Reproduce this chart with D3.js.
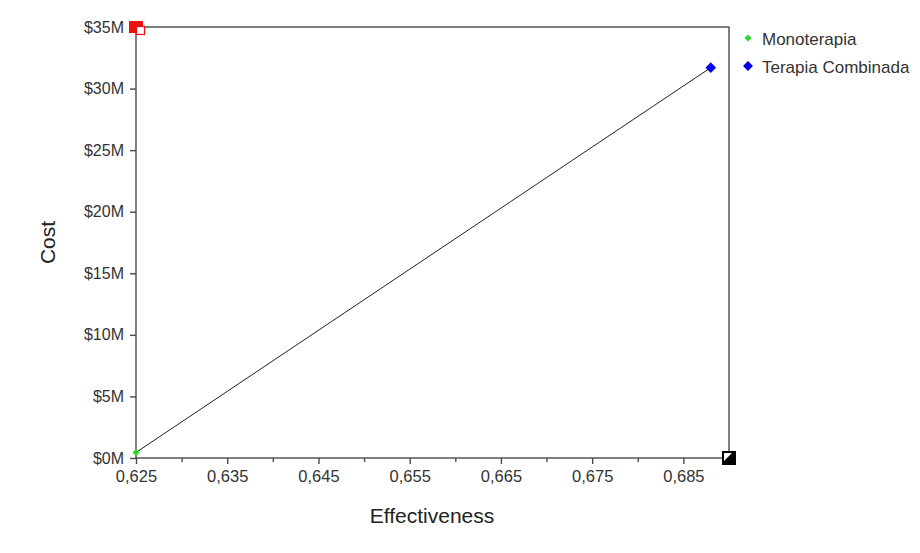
<!DOCTYPE html>
<html><head><meta charset="utf-8">
<script src="https://cdn.jsdelivr.net/npm/d3@7"></script>
<style>body{margin:0;background:#fff;font-family:"Liberation Sans",Arial,sans-serif}</style>
</head><body><svg id="c" width="920" height="553"></svg>
<script>
const seriesNames = ["Monoterapia", "Terapia Combinada"];
const effectiveness = [0.625, 0.688];
const cost = [0.45e6, 31.7e6];
const seriesColors = ["#22dd22", "#0000ee"];
const xTicks = [0.625, 0.635, 0.645, 0.655, 0.665, 0.675, 0.685];
const xMinorTicks = [0.630, 0.640, 0.650, 0.660, 0.670, 0.680];
const yTicks = [0, 5e6, 10e6, 15e6, 20e6, 25e6, 30e6, 35e6];
const xDomain = [0.625, 0.69];
const yDomain = [0, 35e6];

const svg = d3.select("#c");
const L = 136, R = 729, T = 27, B = 458;
const x = d3.scaleLinear().domain(xDomain).range([L, R]);
const y = d3.scaleLinear().domain(yDomain).range([B, T]);
const axisColor = "#4a4a4a";
const textColor = "#333";
const FF = "Liberation Sans, Arial, sans-serif";

// frame
svg.append("rect").attr("x", L).attr("y", T).attr("width", R - L).attr("height", B - T)
  .attr("fill", "none").attr("stroke", axisColor).attr("stroke-width", 1.4);

// y axis
const yAxis = svg.append("g").attr("transform", `translate(${L},0)`)
  .call(d3.axisLeft(y).tickValues(yTicks).tickSize(6).tickPadding(6)
    .tickFormat(d => "$" + d3.format("d")(d / 1e6) + "M"));
yAxis.select(".domain").remove();
yAxis.selectAll("line").attr("stroke", axisColor).attr("stroke-width", 1.4);
yAxis.selectAll("text").attr("fill", textColor).attr("font-size", 16).attr("font-family", FF);

// x axis
const xAxis = svg.append("g").attr("transform", `translate(0,${B})`)
  .call(d3.axisBottom(x).tickValues(xTicks).tickSize(6).tickPadding(6)
    .tickFormat(d => d3.format(".3f")(d).replace(".", ",")));
xAxis.select(".domain").remove();
xAxis.selectAll("line").attr("stroke", axisColor).attr("stroke-width", 1.4);
xAxis.selectAll("text").attr("fill", textColor).attr("font-size", 16.5).attr("font-family", FF);
const xMinor = svg.append("g").attr("transform", `translate(0,${B})`)
  .call(d3.axisBottom(x).tickValues(xMinorTicks).tickSize(4).tickFormat(""));
xMinor.select(".domain").remove();
xMinor.selectAll("line").attr("stroke", axisColor).attr("stroke-width", 1.4);

// axis titles
svg.append("text").attr("x", 432).attr("y", 523).attr("text-anchor", "middle")
  .attr("fill", "#222").attr("font-size", 21).attr("font-family", FF).text("Effectiveness");
svg.append("text").attr("transform", `translate(55,${(T + B) / 2}) rotate(-90)`)
  .attr("text-anchor", "middle").attr("fill", "#222").attr("font-size", 21).attr("font-family", FF).text("Cost");

// line between strategies
svg.append("line")
  .attr("x1", x(effectiveness[0])).attr("y1", y(cost[0]))
  .attr("x2", x(effectiveness[1])).attr("y2", y(cost[1]))
  .attr("stroke", "#222").attr("stroke-width", 1);

// corner markers
const tl = [x(xDomain[0]), y(yDomain[1])];
svg.append("rect").attr("x", tl[0] - 7).attr("y", tl[1] - 6).attr("width", 14).attr("height", 12).attr("fill", "#ee1111");
svg.append("rect").attr("x", tl[0] + 0.5).attr("y", tl[1] - 0.5).attr("width", 8).attr("height", 8)
  .attr("fill", "#fff").attr("stroke", "#ee1111").attr("stroke-width", 1.3);
const br = [x(xDomain[1]), y(yDomain[0])];
svg.append("rect").attr("x", br[0] - 7).attr("y", br[1] - 7).attr("width", 14).attr("height", 14).attr("fill", "#000");
svg.append("path").attr("d", `M${br[0]-5},${br[1]-5}L${br[0]+3},${br[1]-5}L${br[0]-5},${br[1]+3}Z`).attr("fill", "#fff");

// points (diamonds = rotated squares)
const sides = [5, 7.5];
svg.selectAll(".pt").data(seriesNames).enter().append("path")
  .attr("transform", (d, i) => `translate(${x(effectiveness[i])},${y(cost[i])}) rotate(45)`)
  .attr("d", (d, i) => d3.symbol().type(d3.symbolSquare).size(sides[i] * sides[i])())
  .attr("fill", (d, i) => seriesColors[i]);

// legend
const lg = svg.append("g");
seriesNames.forEach((n, i) => {
  const yy = 38 + i * 28;
  const s = i === 0 ? 5 : 7;
  lg.append("path").attr("transform", `translate(748,${yy}) rotate(45)`)
    .attr("d", d3.symbol().type(d3.symbolSquare).size(s * s)())
    .attr("fill", seriesColors[i]);
  lg.append("text").attr("x", 762).attr("y", yy + 7).attr("fill", "#333")
    .attr("font-size", 17).attr("font-family", FF).text(n);
});
</script></body></html>
